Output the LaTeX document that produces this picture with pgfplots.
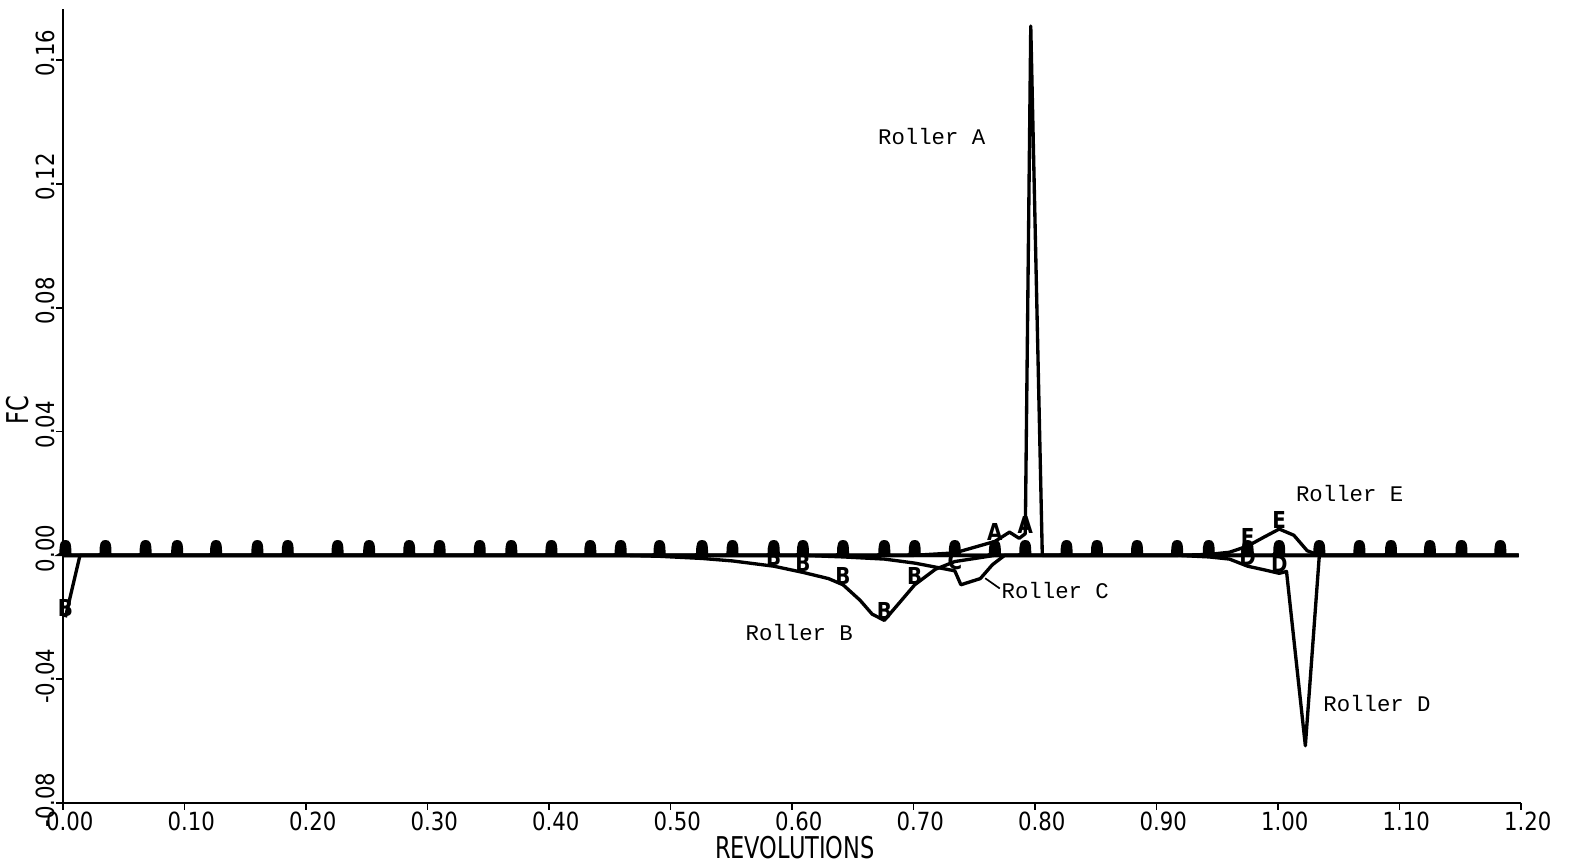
\documentclass[border=0pt]{standalone}
\usepackage{pgfplots}
\pgfplotsset{compat=1.18}
\usetikzlibrary{plotmarks}
\usepackage{fontspec}
\setmainfont{DejaVu Sans}
\newfontfamily\plotfont[FakeStretch=0.85]{DejaVu Sans}
\newfontfamily\labfont[FakeStretch=0.75]{DejaVu Sans}
\newfontfamily\rollerfont{Liberation Mono}
\pgfdeclareplotmark{blob}{%
  \pgfpathmoveto{\pgfpoint{-2.6pt}{0pt}}%
  \pgfpathlineto{\pgfpoint{-1.6pt}{0.6pt}}%
  \pgfpathcurveto{\pgfpoint{-1.6pt}{3.6pt}}{\pgfpoint{-1.3pt}{4.4pt}}{\pgfpoint{0pt}{4.4pt}}%
  \pgfpathcurveto{\pgfpoint{1.3pt}{4.4pt}}{\pgfpoint{1.6pt}{3.6pt}}{\pgfpoint{1.6pt}{0.4pt}}%
  \pgfpathlineto{\pgfpoint{2.2pt}{0pt}}%
  \pgfpathclose
  \pgfusepathqfillstroke}
\pgfplotsset{
  lettermark/.style={only marks, mark=text, text mark={#1},
    text mark as node=true,
    text mark style={font=\plotfont\bfseries\fontsize{7}{7}\selectfont, inner sep=0pt, anchor=south}},
  curve/.style={black, line width=1pt, line join=round, no marks},
}
\begin{document}
\begin{tikzpicture}
\begin{axis}[
  scale only axis,
  width=437.4pt, height=238.2pt,
  xmin=0, xmax=1.2, ymin=-0.08, ymax=0.1765,
  axis lines*=left,
  axis line style={black, line width=0.6pt, -},
  tick align=outside, major tick length=2pt,
  tick style={black, line width=0.5pt},
  clip=false,
  xtick={0,0.1,0.2,0.3,0.4,0.5,0.6,0.7,0.8,0.9,1.0,1.1,1.2},
  xticklabels={\llap{0}.\rlap{00},\llap{0}.\rlap{10},\llap{0}.\rlap{20},\llap{0}.\rlap{30},\llap{0}.\rlap{40},\llap{0}.\rlap{50},\llap{0}.\rlap{60},\llap{0}.\rlap{70},\llap{0}.\rlap{80},\llap{0}.\rlap{90},\llap{1}.\rlap{00},\llap{1}.\rlap{10},\llap{1}.\rlap{20}},
  ytick={-0.08,-0.04,0,0.04,0.08,0.12,0.16},
  yticklabels={\llap{-0}.\rlap{08},\llap{-0}.\rlap{04},\llap{0}.\rlap{00},\llap{0}.\rlap{04},\llap{0}.\rlap{08},\llap{0}.\rlap{12},\llap{0}.\rlap{16}},
  xticklabel style={font=\plotfont\fontsize{7.5}{7.5}\selectfont, anchor=north, yshift=3pt},
  yticklabel style={font=\plotfont\fontsize{7.5}{7.5}\selectfont, rotate=90, anchor=south, yshift=-3pt},
  xlabel={REVOLUTIONS},
  ylabel={FC},
  xlabel style={font=\labfont\fontsize{9}{9}\selectfont, at={(axis description cs:0.502,-0.0565)}, anchor=center},
  ylabel style={font=\labfont\fontsize{9}{9}\selectfont, at={(axis description cs:-0.031,0.495)}, anchor=center},
]
% ---- Roller A
\addplot[curve] table {
x y
0 0
0.700 0
0.734 0.0008
0.767 0.0045
0.779 0.0075
0.787 0.0055
0.792 0.007
0.7965 0.171
0.806 0
1.198 0
};
% ---- Roller B
\addplot[curve] table {
x y
0.002 -0.020
0.014 0
0.459 0
0.491 -0.0003
0.526 -0.001
0.551 -0.0018
0.585 -0.0035
0.609 -0.0055
0.630 -0.0075
0.642 -0.0095
0.656 -0.0145
0.666 -0.019
0.676 -0.021
0.688 -0.0155
0.701 -0.0095
0.718 -0.0045
0.734 -0.002
0.767 0
1.198 0
};
% ---- Roller C
\addplot[curve] table {
x y
0 0
0.609 0
0.642 -0.0005
0.676 -0.0012
0.701 -0.0025
0.734 -0.005
0.739 -0.0095
0.755 -0.0075
0.765 -0.003
0.775 0
1.198 0
};
% ---- Roller D
\addplot[curve] table {
x y
0 0
0.917 0
0.943 -0.0005
0.960 -0.0012
0.975 -0.0035
0.990 -0.0048
1.001 -0.0058
1.007 -0.0052
1.0225 -0.0615
1.034 0
1.198 0
};
% ---- Roller E
\addplot[curve] table {
x y
0 0
0.917 0
0.943 0.0003
0.960 0.001
0.975 0.003
0.988 0.0058
1.001 0.0085
1.013 0.0065
1.024 0.0015
1.034 0
1.198 0
};
% ---- overlapping symbols of all rollers on the zero line
\addplot[only marks, mark=blob, black, line width=0.4pt] table {
x y
0.002 0
0.035 0
0.068 0
0.094 0
0.126 0
0.160 0
0.185 0
0.226 0
0.252 0
0.285 0
0.310 0
0.343 0
0.369 0
0.402 0
0.434 0
0.459 0
0.491 0
0.526 0
0.551 0
0.585 0
0.609 0
0.642 0
0.676 0
0.701 0
0.734 0
0.767 0
0.792 0
0.826 0
0.851 0
0.884 0
0.917 0
0.943 0
0.975 0
1.001 0
1.034 0
1.067 0
1.093 0
1.125 0
1.151 0
1.183 0
};
% ---- letter symbols off the zero line
\addplot[lettermark=A] table {
x y
0.767 0.0045
0.792 0.007
};
\addplot[lettermark=B] table {
x y
0.002 -0.020
0.585 -0.0035
0.609 -0.0055
0.642 -0.0095
0.676 -0.021
0.701 -0.0095
};
\addplot[lettermark=C] table {
x y
0.734 -0.005
};
\addplot[lettermark=D] table {
x y
0.975 -0.0035
1.001 -0.0058
};
\addplot[lettermark=E] table {
x y
0.975 0.003
1.001 0.0085
};
% ---- annotations
\node[font=\rollerfont\fontsize{6.7}{6.7}\selectfont] at (axis cs:0.715,0.1354) {Roller A};
\node[font=\rollerfont\fontsize{6.7}{6.7}\selectfont] at (axis cs:1.059,0.0201) {Roller E};
\node[font=\rollerfont\fontsize{6.7}{6.7}\selectfont] at (axis cs:0.606,-0.0249) {Roller B};
\node[font=\rollerfont\fontsize{6.7}{6.7}\selectfont] at (axis cs:1.0815,-0.0479) {Roller D};
\node[font=\rollerfont\fontsize{6.7}{6.7}\selectfont, anchor=west, inner sep=0pt] at (axis cs:0.772,-0.0113) {Roller C};
\draw[black, line width=0.5pt] (axis cs:0.759,-0.0074) -- (axis cs:0.771,-0.0107);
\coordinate (bbll) at (rel axis cs:-0.0432,-0.0730);
\coordinate (bbur) at (rel axis cs:1.0336,1.0113);
\end{axis}
\pgfresetboundingbox
\useasboundingbox (bbll) rectangle (bbur);
\end{tikzpicture}
\end{document}
